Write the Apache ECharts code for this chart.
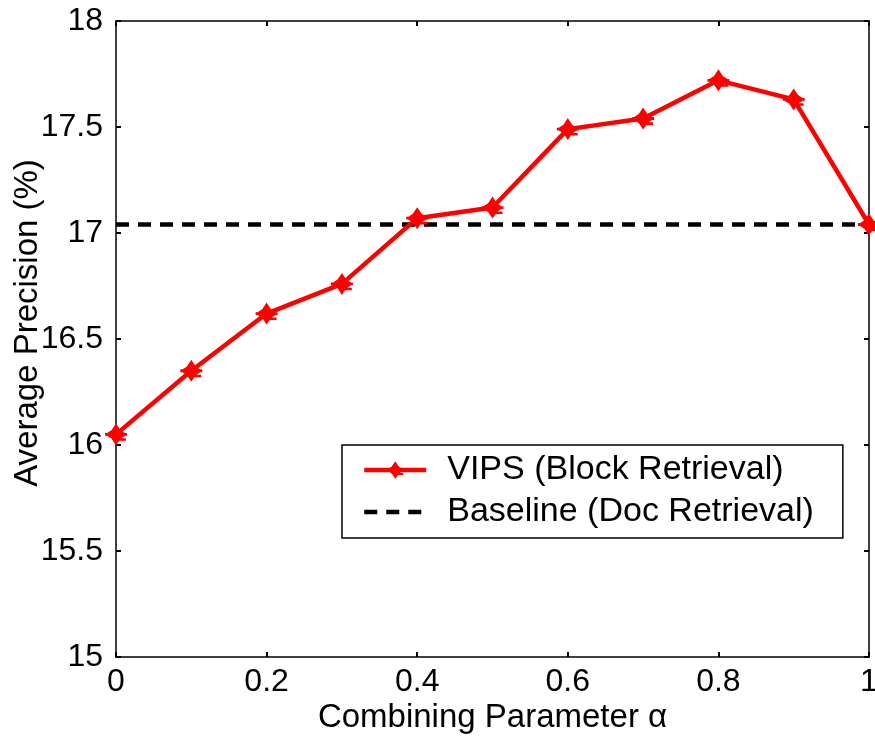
<!DOCTYPE html>
<html>
<head>
<meta charset="utf-8">
<script src="https://cdn.jsdelivr.net/npm/echarts@6/dist/echarts.min.js"></script>
<style>html,body{margin:0;padding:0;background:#fff;}#c{width:875px;height:740px;}</style>
</head>
<body>
<div id="c"></div>
<script>
var alphaValues = [0, 0.1, 0.2, 0.3, 0.4, 0.5, 0.6, 0.7, 0.8, 0.9, 1.0];
var vipsValues = [16.05, 16.35, 16.62, 16.76, 17.07, 17.12, 17.49, 17.54, 17.72, 17.63, 17.04];
var baselineValue = 17.04;
var xTicks = [0, 0.2, 0.4, 0.6, 0.8, 1];
var yTicks = [15, 15.5, 16, 16.5, 17, 17.5, 18];

var chart = echarts.init(document.getElementById('c'), null, {renderer: 'canvas'});
var font = 'Liberation Sans, Arial, sans-serif';
var markerPath = 'path://M0,-10 L4,-4 L10,0 L4,4 L0,10 L-4,4 L-10,0 L-4,-4 Z M-10,-1.3 L10,-1.3 L10,1.3 L-10,1.3 Z M1,3.5 L9,3.5 L9,5.8 L1,5.8 Z';

var vipsData = alphaValues.map(function (a, i) { return [a, vipsValues[i]]; });
var baseData = [[alphaValues[0], baselineValue], [alphaValues[alphaValues.length - 1], baselineValue]];

function axisCommon(showLabel) {
  return {
    axisLine: {show: true, onZero: false, lineStyle: {color: '#000', width: 1.5}},
    axisTick: {show: true, inside: true, length: 5, lineStyle: {color: '#000', width: 2}},
    splitLine: {show: false},
    axisLabel: {show: showLabel}
  };
}

var option = {
  backgroundColor: '#fff',
  animation: false,
  grid: {left: 116, right: 6, top: 21, bottom: 83, containLabel: false, outerBoundsMode: 'none'},
  xAxis: [
    Object.assign({
      type: 'value', min: 0, max: 1, interval: 0.2, position: 'bottom',
      name: 'Combining Parameter \u03b1', nameLocation: 'middle', nameGap: 44, nameMoveOverlap: false,
      nameTextStyle: {color: '#000', fontFamily: font, fontSize: 33}
    }, axisCommon(true), {axisLabel: {show: true, color: '#000', fontFamily: font, fontSize: 32, margin: 9,
      formatter: function (v) { return String(Math.round(v * 10) / 10); }}}),
    Object.assign({type: 'value', min: 0, max: 1, interval: 0.2, position: 'top'}, axisCommon(false))
  ],
  yAxis: [
    Object.assign({
      type: 'value', min: 15, max: 18, interval: 0.5, position: 'left',
      name: 'Average Precision (%)', nameLocation: 'middle', nameGap: 72, nameRotate: 90, nameMoveOverlap: false,
      nameTextStyle: {color: '#000', fontFamily: font, fontSize: 33, padding: [0, 0, 0, 32]}
    }, axisCommon(true), {axisLabel: {show: true, color: '#000', fontFamily: font, fontSize: 32, margin: 13}}),
    Object.assign({type: 'value', min: 15, max: 18, interval: 0.5, position: 'right'}, axisCommon(false))
  ],
  legend: {
    orient: 'vertical', left: 342, top: 445,
    backgroundColor: '#fff',
    borderColor: '#000', borderWidth: 1.5, borderRadius: 0,
    padding: [8, 29, 9, 20],
    itemWidth: 62, itemHeight: 22, itemGap: 8,
    lineStyle: {width: 4.5},
    textStyle: {color: '#000', fontFamily: font, fontSize: 34, padding: [0, 0, 0, 16]},
    data: ['VIPS (Block Retrieval)', 'Baseline (Doc Retrieval)']
  },
  series: [
    {
      name: 'Baseline (Doc Retrieval)', type: 'line', data: baseData,
      showSymbol: false, symbol: 'circle', symbolSize: 0,
      lineStyle: {color: '#000', width: 4.5, type: [13, 9]},
      itemStyle: {color: 'rgba(0,0,0,0)'}, z: 2
    },
    {
      name: 'VIPS (Block Retrieval)', type: 'line', data: vipsData,
      symbol: markerPath, symbolSize: [22, 22],
      lineStyle: {color: '#ff0000', width: 4.5},
      itemStyle: {color: '#ff0000'}, z: 3
    }
  ]
};
chart.setOption(option);
</script>
</body>
</html>
